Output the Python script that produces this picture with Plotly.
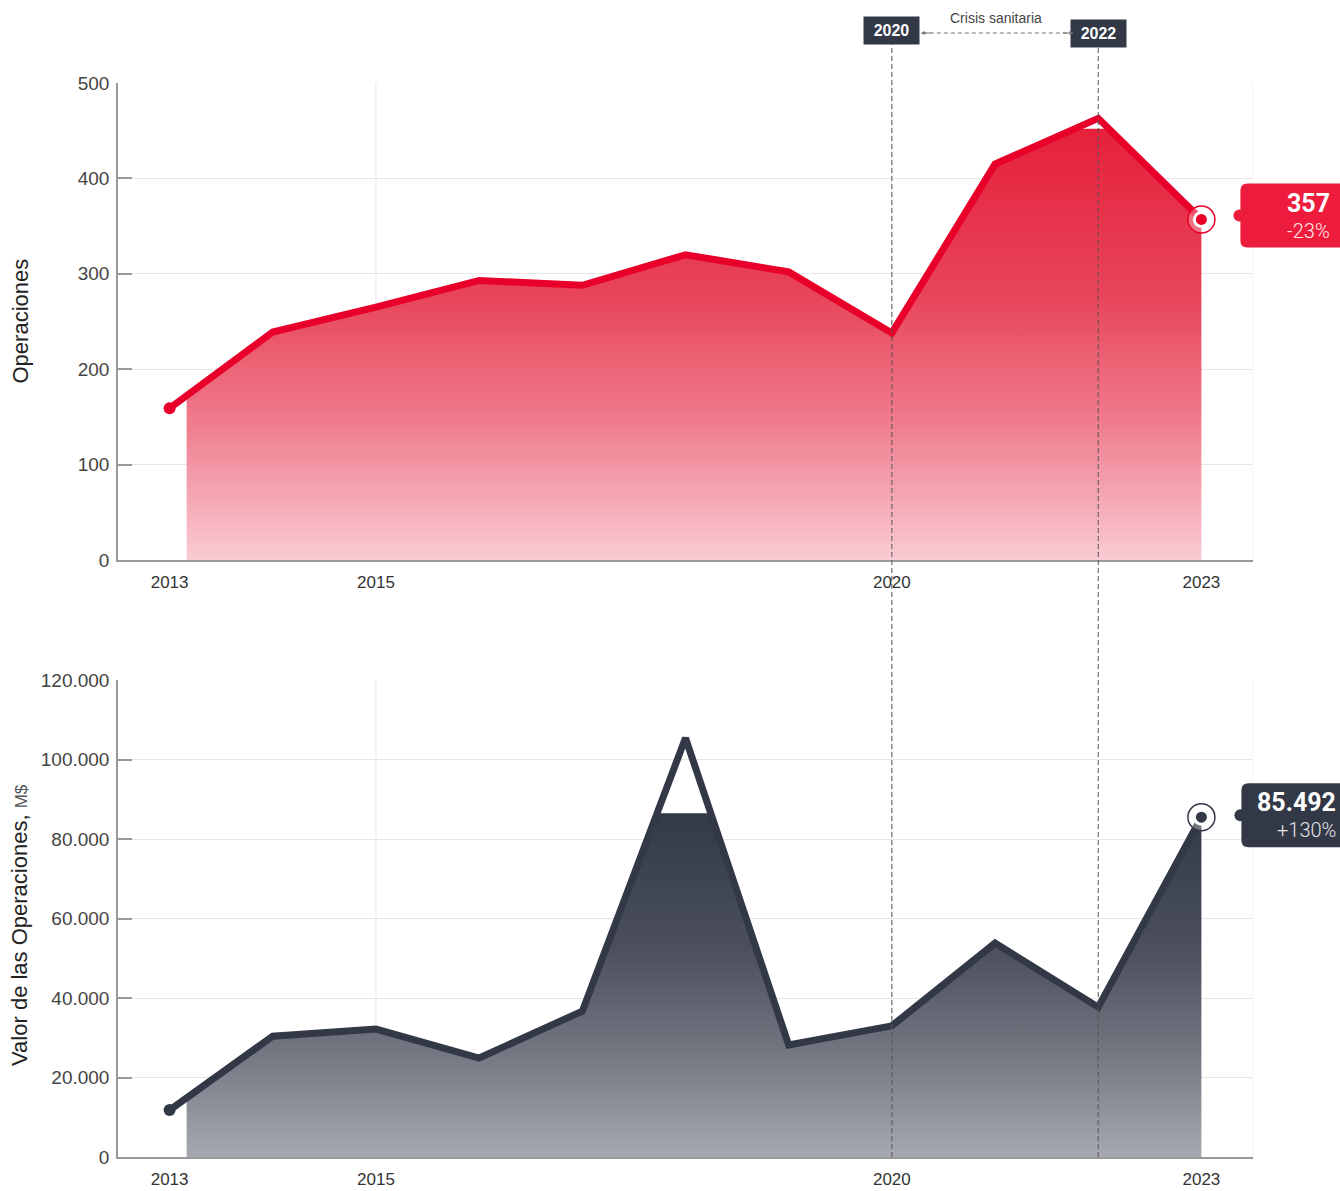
import numpy as np
import plotly.graph_objects as go

years = [2013, 2014, 2015, 2016, 2017, 2018, 2019, 2020, 2021, 2022, 2023]
operaciones = [159, 239, 265, 293, 288, 320, 302, 238, 415, 463, 357]
valor = [11800, 30400, 32200, 24900, 36700, 105400, 28200, 33000, 53800, 37700, 85492]
x_ticks = [2013, 2015, 2020, 2023]
y1_ticks = [0, 100, 200, 300, 400, 500]
y2_ticks = [0, 20000, 40000, 60000, 80000, 100000, 120000]
ops_label, ops_change = "357", "-23%"
val_label, val_change = "85.492", "+130%"
crisis_years = [2020, 2022]
crisis_text = "Crisis sanitaria"

# styling
RED = "#E8002A"
RED_BOX = "#EE1C3C"
DARK = "#323846"
FONT = "Liberation Sans"
FILL_START = 2013.165
CAP_TOP = 452
CAP_BOT = 86500

W, H = 1340, 1191
ML, MR, MT, MB = 118, 87, 83, 34
PH = H - MT - MB
TOP_DOM = [(1157 - 560) / PH, 1.0]
BOT_DOM = [0.0, (1157 - 680) / PH]
XR = [2012.5, 2023.5]


def clipped_fill(xs, ys, x_start, cap):
    y0 = float(np.interp(x_start, xs, ys))
    pts = [(x_start, y0)] + [(x, y) for x, y in zip(xs, ys) if x > x_start]
    ox, oy = [], []
    for i, (x, y) in enumerate(pts):
        if i > 0:
            xp, yp = pts[i - 1]
            if (yp - cap) * (y - cap) < 0:
                t = (cap - yp) / (y - yp)
                ox.append(xp + t * (x - xp))
                oy.append(cap)
        ox.append(x)
        oy.append(min(y, cap))
    return ox, oy


fig = go.Figure()

red_scale = [[0, "#F9CBD3"], [0.35, "#EE7587"], [0.62, "#E84459"], [1, "#E6203B"]]
dark_scale = [[0, "#A6A9B0"], [0.3, "#737782"], [0.6, "#4B505C"], [1, "#333947"]]

for ys, cap, xa, ya, scale, col in [
    (operaciones, CAP_TOP, "x", "y", red_scale, RED),
    (valor, CAP_BOT, "x2", "y2", dark_scale, DARK),
]:
    fx, fy = clipped_fill(years, ys, FILL_START, cap)
    fig.add_trace(go.Scatter(
        x=fx, y=fy, mode="lines", fill="tozeroy", line=dict(width=0, color=col),
        fillgradient=dict(type="vertical", colorscale=scale, start=0, stop=cap),
        xaxis=xa, yaxis=ya, hoverinfo="skip", showlegend=False))
    fig.add_trace(go.Scatter(x=years, y=ys, mode="lines", line=dict(color=col, width=7),
                             xaxis=xa, yaxis=ya, showlegend=False))
    fig.add_trace(go.Scatter(x=[years[0]], y=[ys[0]], mode="markers",
                             marker=dict(size=12, color=col), xaxis=xa, yaxis=ya, showlegend=False))
    for size, mcol, lw in [(27, "rgba(255,255,255,0.3)", 1.5), (17, "white", 0), (11, col, 0)]:
        fig.add_trace(go.Scatter(x=[years[-1]], y=[ys[-1]], mode="markers",
                                 marker=dict(size=size, color=mcol, opacity=1, line=dict(width=lw, color=col)),
                                 xaxis=xa, yaxis=ya, showlegend=False))

axis_common = dict(showline=True, linecolor="#999", linewidth=1.5, zeroline=False)
xcommon = dict(domain=[0, 1], range=XR, tickvals=x_ticks, showgrid=False, ticks="",
               ticklabelstandoff=6, automargin=False, tickfont=dict(size=17, color="#333"), **axis_common)
ycommon = dict(showgrid=True, gridcolor="#E6E6E6", ticks="inside", ticklen=14, tickcolor="#999",
               tickwidth=1.5, automargin=False, ticklabelstandoff=3,
               tickfont=dict(size=19, color="#444"), **axis_common)
fig.update_layout(
    width=W, height=H, margin=dict(l=ML, r=MR, t=MT, b=MB, autoexpand=False),
    paper_bgcolor="white", plot_bgcolor="white", separators=",.",
    font=dict(family=FONT, color="#444"),
    xaxis=dict(anchor="y", **xcommon),
    xaxis2=dict(anchor="y2", **xcommon),
    yaxis=dict(domain=TOP_DOM, range=[0, 500], anchor="x", tickvals=y1_ticks, **ycommon),
    yaxis2=dict(domain=BOT_DOM, range=[0, 120000], anchor="x2", tickvals=y2_ticks,
                tickformat=",d", **ycommon),
)

shapes = []
# vertical grid lines
for xa, ya in [("x", "y"), ("x2", "y2")]:
    for gx in [2015, 2020, XR[1]]:
        shapes.append(dict(type="line", xref=xa, yref=ya + " domain", x0=gx, x1=gx, y0=0, y1=1,
                           line=dict(color="#E6E6E6", width=1), layer="below"))
# crisis dashed lines
for cy in crisis_years:
    shapes.append(dict(type="line", xref="x", yref="paper", x0=cy, x1=cy, y0=0,
                       y1=(1157 - 44) / PH, line=dict(color="#555", width=1, dash="5px,3px")))
# dashed arrow between labels
ay_p = (1157 - 33) / PH
shapes.append(dict(type="line", xref="x", yref="paper", x0=2020.30, x1=2021.74, y0=ay_p, y1=ay_p,
                   line=dict(color="#777", width=1, dash="4px,3px")))


def rounded(x0, y0, x1, y1, r):
    return (f"M{x0 + r},{y0} L{x1 - r},{y0} Q{x1},{y0} {x1},{y0 + r} L{x1},{y1 - r} "
            f"Q{x1},{y1} {x1 - r},{y1} L{x0 + r},{y1} Q{x0},{y1} {x0},{y1 - r} "
            f"L{x0},{y0 + r} Q{x0},{y0} {x0 + r},{y0} Z")


x_end_paper = (years[-1] - XR[0]) / (XR[1] - XR[0])
callouts = [
    (TOP_DOM, operaciones[-1] / 500, RED_BOX, 39, -28, 36, 4, ops_label, ops_change, 131, 16, -12, "#FFE4E8"),
    (BOT_DOM, valor[-1] / 120000, DARK, 40, -30, 34, 2, val_label, val_change, 137, 15, -13, "#E2E4E8"),
]
annotations = []
for dom, frac, bc, bx0, by0, by1, nuby, lab, chg, tx, ty1, ty2, chgcol in callouts:
    yp = dom[0] + frac * (dom[1] - dom[0])
    shapes.append(dict(type="path", xref="paper", yref="paper", xsizemode="pixel", ysizemode="pixel",
                       xanchor=x_end_paper, yanchor=yp, path=rounded(bx0, by0, 170, by1, 7),
                       fillcolor=bc, line=dict(width=0)))
    shapes.append(dict(type="circle", xref="paper", yref="paper", xsizemode="pixel", ysizemode="pixel",
                       xanchor=x_end_paper, yanchor=yp, x0=bx0 - 7, x1=bx0 + 5, y0=nuby - 6, y1=nuby + 6,
                       fillcolor=bc, line=dict(width=0)))
    annotations.append(dict(xref="paper", yref="paper", x=x_end_paper, y=yp, xshift=tx, yshift=ty1,
                            xanchor="right", yanchor="middle", showarrow=False, text=f"<b>{lab}</b>",
                            font=dict(family="Roboto", size=25, color="white")))
    annotations.append(dict(xref="paper", yref="paper", x=x_end_paper, y=yp, xshift=tx, yshift=ty2,
                            xanchor="right", yanchor="middle", showarrow=False, text=chg,
                            font=dict(family="Roboto", size=20, color=chgcol, weight=300)))

# crisis labels
for cy, py in zip(crisis_years, [30.5, 33]):
    annotations.append(dict(xref="x", yref="paper", x=cy, y=(1157 - py) / PH, showarrow=False,
                            xanchor="center", yanchor="middle", width=49, height=21,
                            text=f"<b>{cy}</b>", bgcolor=DARK, borderpad=3,
                            font=dict(family=FONT, size=16, color="white")))
annotations.append(dict(xref="x", yref="paper", x=2021.01, y=(1157 - 18) / PH, showarrow=False,
                        xanchor="center", yanchor="middle",
                        text=crisis_text, font=dict(family=FONT, size=14, color="#444")))
for tip, ax in [(2020.28, 12), (2021.76, -12)]:
    annotations.append(dict(xref="x", yref="paper", x=tip, y=ay_p, ax=ax, ay=0, text="",
                            showarrow=True, arrowhead=2, arrowsize=0.8, arrowwidth=1, arrowcolor="#777"))
# axis titles
annotations.append(dict(xref="paper", yref="paper", x=(20 - ML) / 1135, y=(TOP_DOM[0] + TOP_DOM[1]) / 2,
                        xanchor="center", yanchor="middle",
                        textangle=-90, showarrow=False, text="Operaciones",
                        font=dict(family=FONT, size=22, color="#222")))
annotations.append(dict(xref="paper", yref="paper", x=(20 - ML) / 1135, y=(BOT_DOM[0] + BOT_DOM[1]) / 2 - 0.006,
                        xanchor="center", yanchor="middle",
                        textangle=-90, showarrow=False,
                        text="Valor de las Operaciones, <span style='font-size:17px;color:#555'>M$</span>",
                        font=dict(family=FONT, size=22, color="#222")))

fig.update_layout(shapes=shapes, annotations=annotations)
fig.write_html("out.html", config={"displayModeBar": False},
               post_script="document.body.style.margin='0';")
